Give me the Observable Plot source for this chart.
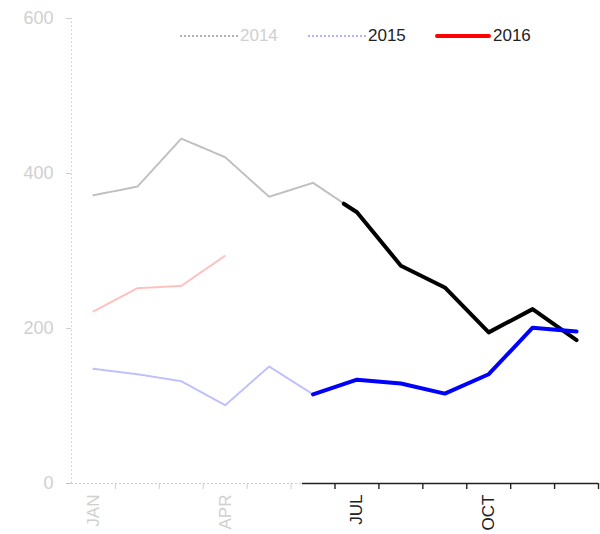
<!DOCTYPE html>
<html>
<head>
<meta charset="utf-8">
<script src="https://cdn.jsdelivr.net/npm/d3@7"></script>
<script src="https://cdn.jsdelivr.net/npm/@observablehq/plot@0.6"></script>
<style>
  html, body { margin: 0; padding: 0; background: #fff; }
  #wrap { position: relative; width: 600px; height: 534px; font-family: "Liberation Sans", Arial, sans-serif; }
  #legend { position: absolute; top: 25px; left: 0; width: 600px; height: 22px; font-size: 17px; }
  .item { position: absolute; display: flex; align-items: center; height: 22px; }
  .swatch { display: inline-block; width: 58px; height: 0; margin-right: 2px; }
</style>
</head>
<body>
<div id="wrap">
  <div id="chart"></div>
  <div id="legend"></div>
</div>
<script>
// ---- data ----
const months = ["JAN","FEB","MAR","APR","MAY","JUN","JUL","AUG","SEP","OCT","NOV","DEC"];
const monthNum = [1,2,3,4,5,6,7,8,9,10,11,12];
const values2014 = [372, 383, 445, 421, 370, 388, 350, 281, 253, 195, 225, 185];
const values2015 = [148, 141, 132, 101, 151, 115, 134, 129, 116, 141, 201, 196];
const values2016 = [222, 252, 255, 294];
// point where the 2014 line turns solid (late June)
const solidStart2014 = {month: 6.7, value: 361};
const solidStartMonth2015 = 6;
const seriesNames = ["2014", "2015", "2016"];
const seriesColors = ["#000000", "#0000ff", "#ff0000"];
const labelMonths = [1, 4, 7, 10];
const yTicks = [0, 200, 400, 600];

// ---- tables ----
const rows = (name, vals) => vals.map((v, i) => ({series: name, month: monthNum[i], value: v}));
const all2014 = rows("2014", values2014);
const all2015 = rows("2015", values2015);
const all2016 = rows("2016", values2016);
const solid2014 = [{series: "2014", month: solidStart2014.month, value: solidStart2014.value}]
  .concat(all2014.filter(d => d.month >= 7));
const solid2015 = all2015.filter(d => d.month >= solidStartMonth2015);

const fadedBounds = [1.5, 2.5, 3.5, 4.5, 5.5];
const solidBounds = [6.5, 7.5, 8.5, 9.5, 10.5, 11.5, 12.5];
const axisSolidFrom = 5.76;
const faded = "#cfcfcf";
const dark = "#222";
const fmt = d => months[d - 1];

const fadedLine = (data, color) => Plot.line(data, {
  x: "month", y: "value", stroke: color, strokeWidth: 2,
  strokeOpacity: 0.25, strokeDasharray: "1.2 1.3"
});

const chart = Plot.plot({
  width: 600,
  height: 534,
  marginLeft: 71,
  marginRight: 2,
  marginTop: 18,
  marginBottom: 51,
  style: {fontFamily: "'Liberation Sans', Arial, sans-serif", fontSize: "17px", background: "#fff"},
  x: {domain: [0.5, 12.5], label: null},
  y: {domain: [0, 600], label: null},
  marks: [
    // y axis (faded)
    Plot.ruleX([0.5], {y1: 0, y2: 600, stroke: "#999", strokeOpacity: 0.5, strokeDasharray: "1.5 2.5"}),
    Plot.axisY({ticks: yTicks, tickSize: 5, tickPadding: 13, color: faded, fontSize: 18, label: null}),
    // x axis line
    Plot.ruleY([0], {x1: 0.41, x2: axisSolidFrom, stroke: "#999", strokeOpacity: 0.5, strokeDasharray: "2 2"}),
    Plot.ruleY([0], {x1: axisSolidFrom, x2: 12.5, stroke: dark, strokeWidth: 1.6}),
    Plot.axisX({ticks: fadedBounds, tickSize: 6, tickFormat: () => "", color: faded, label: null}),
    Plot.axisX({ticks: solidBounds, tickSize: 6, tickFormat: () => "", color: dark, strokeWidth: 1.4, label: null}),
    Plot.axisX({ticks: labelMonths.filter(m => m < 6), tickSize: 0, tickPadding: 11, tickRotate: -90,
      tickFormat: fmt, color: faded, fontSize: 17, label: null}),
    Plot.axisX({ticks: labelMonths.filter(m => m > 6), tickSize: 0, tickPadding: 11, tickRotate: -90,
      tickFormat: fmt, color: dark, fontSize: 17, label: null}),
    // faded full lines
    fadedLine(all2014, seriesColors[0]),
    fadedLine(all2015, seriesColors[1]),
    fadedLine(all2016, seriesColors[2]),
    // solid highlighted parts
    Plot.line(solid2014, {x: "month", y: "value", stroke: seriesColors[0], strokeWidth: 4}),
    Plot.line(solid2015, {x: "month", y: "value", stroke: seriesColors[1], strokeWidth: 4})
  ]
});
document.getElementById("chart").appendChild(chart);

// ---- legend ----
const legendItems = [
  {name: seriesNames[0], color: seriesColors[0], left: 180, lineFaded: true, textFaded: true},
  {name: seriesNames[1], color: seriesColors[1], left: 308, lineFaded: true, textFaded: false},
  {name: seriesNames[2], color: seriesColors[2], left: 435, lineFaded: false, textFaded: false}
];
const legend = document.getElementById("legend");
for (const it of legendItems) {
  const item = document.createElement("div");
  item.className = "item";
  item.style.left = it.left + "px";
  const sw = document.createElement("span");
  sw.className = "swatch";
  if (it.lineFaded) {
    sw.style.borderTop = "2px dotted " + it.color;
    sw.style.opacity = "0.3";
  } else {
    sw.style.borderTop = "4px solid " + it.color;
    sw.style.borderRadius = "2px";
    sw.style.width = "56px";
  }
  const tx = document.createElement("span");
  tx.textContent = it.name;
  tx.style.color = it.textFaded ? faded : dark;
  item.appendChild(sw);
  item.appendChild(tx);
  legend.appendChild(item);
}
</script>
</body>
</html>
